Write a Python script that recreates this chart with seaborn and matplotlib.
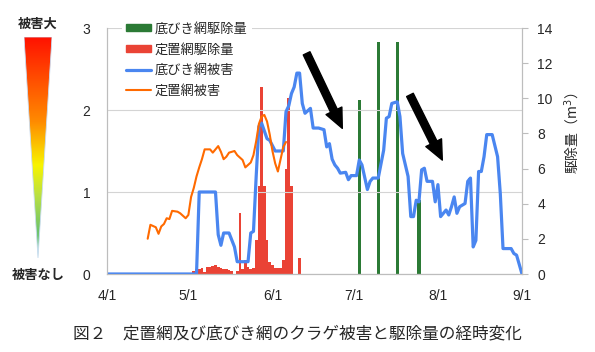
import numpy as np
import pandas as pd
import seaborn as sns
import matplotlib.pyplot as plt
from matplotlib.colors import LinearSegmentedColormap
from matplotlib.patches import Polygon, Patch
from matplotlib.lines import Line2D

# days counted from 4/1
start = pd.Timestamp('2009-04-01')
tick_dates = pd.to_datetime(['2009-04-01', '2009-05-01', '2009-06-01',
                             '2009-07-01', '2009-08-01', '2009-09-01'])
tick_labels = ['4/1', '5/1', '6/1', '7/1', '8/1', '9/1']

# 底びき網被害 (left axis)
trawl_days = [0, 33, 34, 40, 41, 42, 43, 45, 47, 48, 52, 53, 54, 55, 56, 57, 59, 60,
              62, 65, 66, 67, 68, 69, 70, 71, 72, 73, 75, 76, 78, 80, 81, 82, 83, 84,
              85, 86, 88, 89, 90, 92, 93, 94, 96, 97, 98, 100, 102, 103, 104, 105,
              107, 108, 109, 111, 112, 113, 114, 115, 116, 117, 118, 120, 121, 122,
              123, 125, 126, 127, 128, 129, 130, 132, 133, 134, 135, 136, 137, 138,
              139, 140, 142, 144, 145, 146, 149, 150, 151, 153]
trawl_damage = [0, 0, 1.0, 1.0, 0.48, 0.35, 0.5, 0.5, 0.33, 0.15, 0.15, 0.5, 0.52,
                1.19, 1.8, 1.84, 1.65, 1.63, 1.5, 1.5, 1.98, 2.05, 2.2, 2.28, 2.45,
                2.45, 2.08, 1.96, 2.02, 1.78, 1.78, 1.76, 1.55, 1.59, 1.4, 1.33, 1.29,
                1.23, 1.24, 1.15, 1.2, 1.2, 1.39, 1.33, 1.03, 1.13, 1.17, 1.17, 1.51,
                1.9, 1.92, 2.08, 2.1, 1.92, 1.47, 1.19, 0.7, 0.7, 0.9, 0.88, 1.27,
                1.29, 1.13, 1.13, 0.88, 1.09, 0.7, 0.78, 0.72, 0.82, 0.94, 0.74, 0.82,
                0.86, 1.13, 1.17, 0.33, 0.41, 1.25, 1.25, 1.43, 1.7, 1.7, 1.43, 0.98,
                0.31, 0.31, 0.25, 0.23, 0]

# 定置網被害 (left axis)
setnet_days = [15, 16, 18, 19, 20, 21, 22, 23, 24, 26, 27, 28, 29, 30, 31, 32, 33, 34,
               35, 36, 38, 39, 41, 42, 43, 44, 45, 47, 48, 50, 51, 52, 53, 54, 55, 56,
               57, 58, 59, 60, 61, 62, 63, 64, 65, 66]
setnet_damage = [0.43, 0.6, 0.57, 0.49, 0.58, 0.61, 0.68, 0.67, 0.77, 0.76, 0.74, 0.71,
                 0.68, 0.72, 0.94, 1.05, 1.19, 1.3, 1.4, 1.52, 1.52, 1.48, 1.56, 1.49,
                 1.4, 1.43, 1.48, 1.5, 1.45, 1.39, 1.3, 1.33, 1.36, 1.45, 1.62, 1.83,
                 1.92, 1.94, 1.86, 1.7, 1.5, 1.35, 1.25, 1.4, 1.55, 1.61]

# 定置網駆除量 (right axis, m3)
setnet_rm_days = list(range(32, 72))
setnet_removal = [0.15, 0.3, 0.3, 0.35, 0.1, 0.4, 0.4, 0.45, 0.5, 0.4, 0.35, 0.3, 0.3,
                  0.2, 0.15, 0, 0.15, 3.5, 0.3, 0.8, 0.4, 0.3, 0.35, 1.95, 5.0, 10.65,
                  5.0, 1.95, 0.7, 0.5, 0.32, 0.32, 0.32, 0.8, 6.0, 10.0, 5.0, 0, 0, 0.9]

# 底びき網駆除量 (right axis, m3)
trawl_rm_days = [93, 100, 107, 115]
trawl_removal = [9.9, 13.2, 13.2, 4.2]

BLUE = '#4a86f0'
ORANGE = '#ff6a00'
RED = '#ea4335'
GREEN = '#2b7a35'

sns.set_style('white')
plt.rcParams['font.family'] = ['Noto Sans CJK JP', 'DejaVu Sans']

fig = plt.figure(figsize=(5.95, 3.52), dpi=100)
ax = fig.add_axes([107 / 595, 1 - 274 / 352, 415 / 595, 246 / 352])
ax2 = ax.twinx()

# bars on the right axis
sns.barplot(x=setnet_rm_days, y=setnet_removal, native_scale=True, width=1.0,
            color=RED, saturation=1, linewidth=0, errorbar=None, ax=ax2)
sns.barplot(x=trawl_rm_days, y=trawl_removal, native_scale=True, width=0.17,
            color=GREEN, saturation=1, linewidth=0, errorbar=None, ax=ax2)

# damage lines on the left axis, drawn above the bars
ax.set_zorder(ax2.get_zorder() + 1)
ax.patch.set_visible(False)
sns.lineplot(x=trawl_days, y=trawl_damage, color=BLUE, lw=2.3, ax=ax, legend=False)
sns.lineplot(x=setnet_days, y=setnet_damage, color=ORANGE, lw=1.5, ax=ax, legend=False)

tick_pos = (tick_dates - start).days
ax.set_xlim(0, tick_pos[-1])
ax.set_ylim(0, 3)
ax2.set_ylim(0, 14)
ax.set_xticks(tick_pos)
ax.set_xticklabels(tick_labels)
ax.set_yticks([0, 1, 2, 3])
ax2.set_yticks(range(0, 15, 2))
ax.set_xlabel('')
ax.set_ylabel('')
ax2.set_xlabel('')

ax.grid(axis='y', color='#d4d4d4', lw=0.8)
ax.grid(axis='x', visible=False)
ax2.grid(False)
for a in (ax, ax2):
    for s in a.spines.values():
        s.set_color('#bdbdbd')
        s.set_linewidth(0.8)
    a.spines['top'].set_visible(False)
ax.tick_params(axis='x', direction='in', length=4, color='#bdbdbd', pad=11,
               labelsize=10)
ax.tick_params(axis='y', length=0, pad=12, labelsize=10)
ax2.tick_params(axis='y', direction='out', length=4, color='#bdbdbd', pad=7,
                labelsize=10)
for lab in ax.get_xticklabels() + ax.get_yticklabels() + ax2.get_yticklabels():
    lab.set_fontfamily('Liberation Sans')

ax2.set_ylabel('駆除量（m$^3$）', fontsize=10)
ax2.yaxis.set_label_coords(1.098, 0.57)

# arrows
arrow = dict(arrowstyle='simple,head_width=0.9,head_length=1.0,tail_width=0.38',
             color='black', mutation_scale=14, shrinkA=0, shrinkB=0)
ax.annotate('', xy=(0.567, 0.592), xytext=(0.481, 0.897), xycoords='axes fraction',
            arrowprops=arrow)
ax.annotate('', xy=(0.808, 0.463), xytext=(0.730, 0.728), xycoords='axes fraction',
            arrowprops=arrow)

# legend
handles = [Patch(color=GREEN), Patch(color=RED),
           Line2D([], [], color=BLUE, lw=2.3), Line2D([], [], color=ORANGE, lw=1.5)]
labels = ['底びき網駆除量', '定置網駆除量', '底びき網被害', '定置網被害']
leg = ax.legend(handles, labels, loc='upper left', bbox_to_anchor=(0.036, 1.038),
                borderaxespad=0, fontsize=9.5, frameon=True, facecolor='white',
                edgecolor='none', framealpha=1, fancybox=False, handlelength=1.9,
                handleheight=0.45, handletextpad=0.3, labelspacing=0.58,
                borderpad=0.3)

# damage scale triangle on the left
gax = fig.add_axes([24 / 595, 1 - 258 / 352, 28 / 595, 221 / 352])
gax.set_axis_off()
cmap = LinearSegmentedColormap.from_list(
    'damage', [(0.0, '#9fd8c4'), (0.12, '#6cc36a'), (0.28, '#b9e044'),
               (0.42, '#f8f400'), (0.62, '#ff8a00'), (1.0, '#ff1200')])
grad = np.linspace(0, 1, 256).reshape(-1, 1)
im = gax.imshow(grad, cmap=cmap, origin='lower', extent=[0, 1, 0, 1], aspect='auto')
tri = Polygon([[0, 1], [1, 1], [0.5, 0]], closed=True, transform=gax.transData,
              facecolor='none', edgecolor='#c9dcf2', lw=0.6)
gax.add_patch(tri)
im.set_clip_path(tri)
gax.set_xlim(0, 1)
gax.set_ylim(0, 1)

fig.text(38 / 595, 1 - 24 / 352, '被害大', ha='center', va='center', fontsize=9.5,
         fontweight='bold')
fig.text(38 / 595, 1 - 275 / 352, '被害なし', ha='center', va='center', fontsize=9.5,
         fontweight='bold')

fig.text(0.5, 1 - 334 / 352, '図２　定置網及び底びき網のクラゲ被害と駆除量の経時変化',
         ha='center', va='center', fontsize=12)

fig.savefig('out.png', dpi=100)
